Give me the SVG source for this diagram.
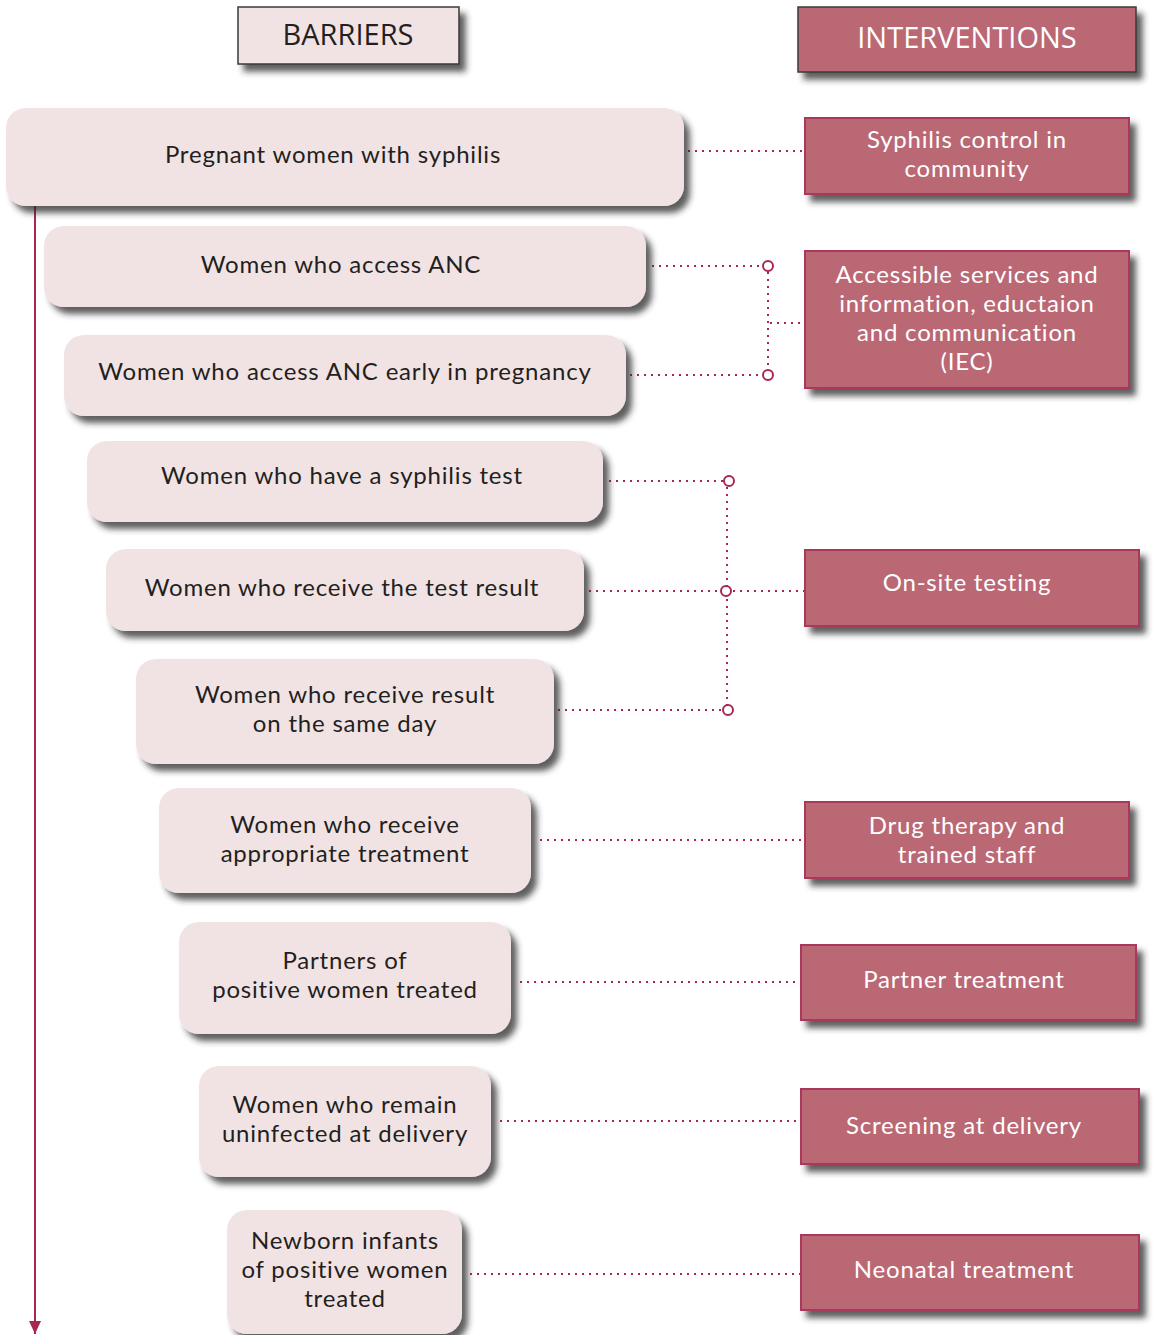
<svg xmlns="http://www.w3.org/2000/svg" width="1155" height="1335" viewBox="0 0 1155 1335">
<defs>
<filter id="sh" x="-10%" y="-20%" width="130%" height="160%">
<feDropShadow dx="6" dy="7" stdDeviation="3" flood-color="#2a2a2a" flood-opacity="0.75"/>
</filter>
<marker id="arr" markerWidth="14" markerHeight="12" refX="13" refY="6" orient="auto" markerUnits="userSpaceOnUse" viewBox="0 0 14 12">
<path d="M0,0 L13,6 L0,12 Z" fill="#a6284f"/>
</marker>
</defs>
<style>
.bar{fill:#f1e3e4;filter:url(#sh)}
.int{fill:#bb6774;stroke:#a9385a;stroke-width:2;filter:url(#sh)}
.hdr{stroke:#3a3a3a;stroke-width:1.5;filter:url(#sh)}
.bt{font-family:Lato,"Open Sans",sans-serif;font-size:24px;letter-spacing:0.8px;fill:#231f20;text-anchor:middle}
.it{font-family:Lato,"Open Sans",sans-serif;font-size:24px;letter-spacing:0.8px;fill:#ffffff;text-anchor:middle}
.dot{stroke:#a6284f;stroke-width:2;stroke-dasharray:2 5;fill:none}
.ring{fill:#fff;stroke:#a6284f;stroke-width:2}
</style>
<g id="header-barriers">
<rect class="hdr" x="238" y="7" width="221" height="57" fill="#f1e3e4"/>
<text x="348" y="45" font-family="Open Sans, Noto Sans, sans-serif" font-size="29" fill="#231f20" text-anchor="middle">BARRIERS</text>
</g>
<g id="header-interventions">
<rect class="hdr" x="798" y="7" width="338" height="65" fill="#bb6774"/>
<text x="967" y="48" font-family="Open Sans, Noto Sans, sans-serif" font-size="29" fill="#fff" text-anchor="middle">INTERVENTIONS</text>
</g>
<g id="connectors">
<line x1="35" y1="206" x2="35" y2="1334" stroke="#a6284f" stroke-width="2" marker-end="url(#arr)"/>
<line class="dot" x1="688" y1="151" x2="805" y2="151"/>
<line class="dot" x1="652" y1="266" x2="763" y2="266"/>
<line class="dot" x1="630" y1="375" x2="763" y2="375"/>
<line class="dot" x1="768" y1="272" x2="768" y2="370"/>
<line class="dot" x1="770" y1="323" x2="805" y2="323"/>
<circle class="ring" cx="768" cy="266" r="5"/>
<circle class="ring" cx="768" cy="375" r="5"/>
<line class="dot" x1="609" y1="481" x2="724" y2="481"/>
<line class="dot" x1="589" y1="591" x2="721" y2="591"/>
<line class="dot" x1="733" y1="591" x2="805" y2="591"/>
<line class="dot" x1="558" y1="710" x2="723" y2="710"/>
<line class="dot" x1="727" y1="487" x2="727" y2="705"/>
<circle class="ring" cx="729" cy="481" r="5"/>
<circle class="ring" cx="726" cy="591" r="5"/>
<circle class="ring" cx="728" cy="710" r="5"/>
<line class="dot" x1="540" y1="840" x2="805" y2="840"/>
<line class="dot" x1="520" y1="982" x2="801" y2="982"/>
<line class="dot" x1="500" y1="1121" x2="801" y2="1121"/>
<line class="dot" x1="470" y1="1274" x2="801" y2="1274"/>
</g>
<g id="b1"><rect class="bar" x="6" y="108" width="678" height="98" rx="20"/><text class="bt" x="333" y="163">Pregnant women with syphilis</text></g>
<g id="b2"><rect class="bar" x="44" y="226" width="602" height="81" rx="20"/><text class="bt" x="341" y="273">Women who access ANC</text></g>
<g id="b3"><rect class="bar" x="64" y="335" width="562" height="81" rx="20"/><text class="bt" x="345" y="380">Women who access ANC early in pregnancy</text></g>
<g id="b4"><rect class="bar" x="87" y="441" width="516" height="81" rx="20"/><text class="bt" x="342" y="484">Women who have a syphilis test</text></g>
<g id="b5"><rect class="bar" x="106" y="549" width="478" height="82" rx="20"/><text class="bt" x="342" y="596">Women who receive the test result</text></g>
<g id="b6"><rect class="bar" x="136" y="659" width="418" height="105" rx="20"/><text class="bt" x="345" y="703">Women who receive result</text><text class="bt" x="345" y="732">on the same day</text></g>
<g id="b7"><rect class="bar" x="159" y="788" width="372" height="105" rx="20"/><text class="bt" x="345" y="833">Women who receive</text><text class="bt" x="345" y="862">appropriate treatment</text></g>
<g id="b8"><rect class="bar" x="179" y="922" width="332" height="112" rx="20"/><text class="bt" x="345" y="969">Partners of</text><text class="bt" x="345" y="998">positive women treated</text></g>
<g id="b9"><rect class="bar" x="199" y="1066" width="292" height="111" rx="20"/><text class="bt" x="345" y="1113">Women who remain</text><text class="bt" x="345" y="1142">uninfected at delivery</text></g>
<g id="b10"><rect class="bar" x="227" y="1210" width="235" height="124" rx="20"/><text class="bt" x="345" y="1249">Newborn infants</text><text class="bt" x="345" y="1278">of positive women</text><text class="bt" x="345" y="1307">treated</text></g>
<g id="i1"><rect class="int" x="805" y="118" width="324" height="76"/><text class="it" x="967" y="148">Syphilis control in</text><text class="it" x="967" y="177">community</text></g>
<g id="i2"><rect class="int" x="805" y="251" width="324" height="137"/><text class="it" x="967" y="283">Accessible services and</text><text class="it" x="967" y="312">information, eductaion</text><text class="it" x="967" y="341">and communication</text><text class="it" x="967" y="370">(IEC)</text></g>
<g id="i3"><rect class="int" x="805" y="550" width="334" height="76"/><text class="it" x="967" y="591">On-site testing</text></g>
<g id="i4"><rect class="int" x="805" y="802" width="324" height="76"/><text class="it" x="967" y="834">Drug therapy and</text><text class="it" x="967" y="863">trained staff</text></g>
<g id="i5"><rect class="int" x="801" y="945" width="335" height="75"/><text class="it" x="964" y="988">Partner treatment</text></g>
<g id="i6"><rect class="int" x="801" y="1089" width="338" height="75"/><text class="it" x="964" y="1134">Screening at delivery</text></g>
<g id="i7"><rect class="int" x="801" y="1235" width="338" height="75"/><text class="it" x="964" y="1278">Neonatal treatment</text></g>
</svg>
